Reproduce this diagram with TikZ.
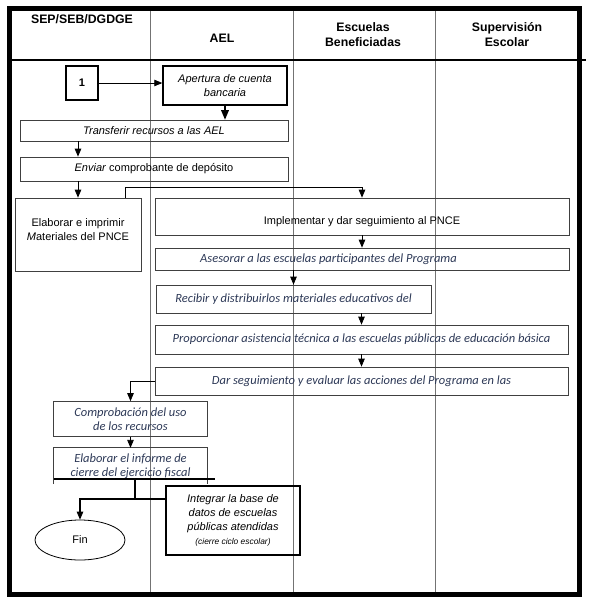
\documentclass[tikz,border=0pt]{standalone}
\usepackage{fontspec}
\setmainfont{Liberation Sans}
\newfontfamily\calibri{Carlito}
\usetikzlibrary{arrows,calc,shapes,positioning}
\definecolor{tinta}{RGB}{44,56,86}
\tikzset{FLUJO style/.style={>=triangle 45,x=1pt,y=-1pt,inner sep=0pt,align=center}}

\begin{document}
\begin{tikzpicture}[FLUJO style]
	\tikzstyle{normal}=[font=\fontsize{11}{14}\selectfont]
	\tikzstyle{italico}=[font=\fontsize{11}{14}\selectfont\itshape]
	\tikzstyle{azul}=[font=\calibri\fontsize{12.5}{14.5}\selectfont\itshape, text=tinta]
	\tikzstyle{encabezado}=[font=\fontsize{12.3}{15}\selectfont\bfseries]
	\tikzstyle{borde}=[draw=black!75, line width=0.8pt]
	\tikzstyle{caja}=[borde]
	\tikzstyle{cajagruesa}=[draw=black, line width=1.6pt]
	\tikzstyle{linea}=[line width=0.8pt]
	\tikzstyle{rama}=[line width=2pt]

	\useasboundingbox (0,0) rectangle (590,610);

	% carriles y marco
	\foreach \x in {150,293,435}
		\draw[black!55, line width=0.7pt] (\x,9) -- (\x,594);
	\draw[line width=1.2pt] (9,60) -- (586,60);
	\draw[line width=5pt] (9,9) rectangle (579,594);

	\node[encabezado] (sep) at (82,19) {SEP/SEB/DGDGE};
	\node[encabezado] (ael) at (222,38) {AEL};
	\node[encabezado] (escuelas) at (363,34.5) {Escuelas\\Beneficiadas};
	\node[encabezado] (supervision) at (507,35) {Supervisión\\Escolar};

	\node[cajagruesa, normal, minimum width=32, minimum height=34] (uno) at (82,83) {\textbf{1}};
	\node[cajagruesa, italico, minimum width=124, minimum height=39] (apertura) at (225,85.5) {Apertura de cuenta\\bancaria};
	\node[caja, italico, minimum width=268, minimum height=21] (transferir) at (154,130.5) {Transferir recursos a las AEL};
	\node[caja, normal, minimum width=268, minimum height=24] (enviar) at (154,169) {\textit{Enviar} comprobante de depósito};
	\node[caja, normal, minimum width=126, minimum height=73] (elaborar) at (78,234.5) {Elaborar e imprimir\\\textit{M}ateriales del PNCE\\[-4pt]};
	\node[caja, normal, minimum width=414, minimum height=37] (implementar) at (362,216.5) {\raisebox{-5pt}[\height][\depth]{Implementar y dar seguimiento al PNCE}};
	\node[caja, azul, minimum width=414, minimum height=22] (asesorar) at (362,259) {Asesorar a las escuelas participantes del Programa\hspace*{67pt}};
	\node[caja, azul, minimum width=275, minimum height=28] (recibir) at (293.5,299) {Recibir y distribuirlos materiales educativos del};
	\node[caja, azul, minimum width=413, minimum height=29] (proporcionar) at (361.5,339.5) {Proporcionar asistencia técnica a las escuelas públicas de educación básica};
	\node[caja, azul, minimum width=413, minimum height=28] (dar) at (361.5,381) {Dar seguimiento y evaluar las acciones del Programa en las};
	\node[caja, azul, minimum width=154, minimum height=35] (comprobacion) at (130.5,419) {Comprobación del uso\\de los recursos};
	\node[azul, minimum width=153, minimum height=36] (informe) at (130.5,466) {Elaborar el informe de\\cierre del ejercicio fiscal};
	\draw[borde] (informe.south west) -- (informe.north west) -- (informe.north east) -- (informe.south east);
	\node[cajagruesa, italico, minimum width=134, minimum height=69] (integrar) at (233,520.5) {Integrar la base de\\datos de escuelas\\públicas atendidas\\{\fontsize{8.4}{11}\selectfont (cierre ciclo escolar)}};
	\node[draw, ellipse, line width=0.8pt, normal, minimum width=90, minimum height=40] (fin) at (80,540) {Fin};

	\draw[linea,->] (uno.east) -- (uno.east -| apertura.west);
	\draw[line width=1.2pt,->] (apertura) -- (apertura |- transferir.north);
	\draw[linea,->] (elaborar.north |- transferir.south) -- (elaborar.north |- enviar.north);
	\draw[linea,->] (elaborar.north |- enviar.south) -- (elaborar.north);
	\draw[linea,->] ([xshift=47pt]elaborar.north) -- ++(0,-10) -| (implementar.north);
	\draw[linea,->] (implementar) -- (asesorar);
	\draw[linea,->] (recibir.north |- asesorar.south) -- (recibir.north);
	\draw[linea,->] (proporcionar.north |- recibir.south) -- (proporcionar.north);
	\draw[linea,->] (proporcionar) -- (dar);
	\draw[linea,->] (dar.west) -| (comprobacion.north);
	\draw[linea,->] (comprobacion) -- (informe);

	% cierre
	\coordinate (barra) at ([yshift=5pt]informe.south west);
	\coordinate (nudo) at (135,499);
	\draw[rama] (barra) -- ([xshift=8pt,yshift=5pt]informe.south east);
	\draw[rama] (nudo |- barra) -- (nudo);
	\draw[rama] (integrar.west |- nudo) -| ([yshift=8pt]fin.north);
	\draw[linea,->] ([yshift=9pt]fin.north) -- (fin.north);
\end{tikzpicture}
\end{document}
